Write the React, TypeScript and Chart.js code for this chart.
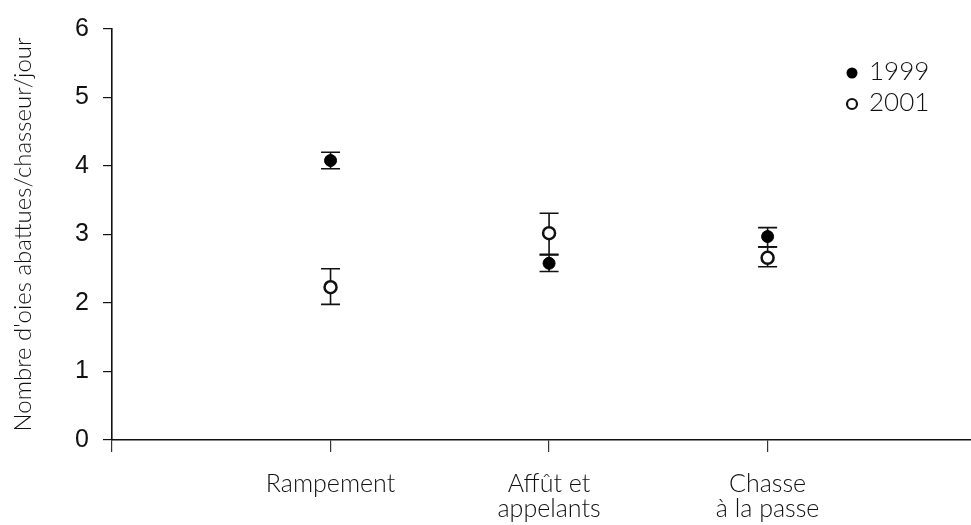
import React, { useEffect, useRef } from "react";
import { Chart, registerables } from "chart.js";

Chart.register(...registerables);

const categories: (string | string[])[] = ["", "Rampement", ["Affût et", "appelants"], ["Chasse", "à la passe"]];
const yTicks = [0, 1, 2, 3, 4, 5, 6];
const seriesNames = ["1999", "2001"];
const v1999 = [4.08, 2.58, 2.97];
const lo1999 = [3.96, 2.46, 2.82];
const hi1999 = [4.2, 2.7, 3.1];
const v2001 = [2.23, 3.02, 2.66];
const lo2001 = [1.98, 2.71, 2.53];
const hi2001 = [2.5, 3.31, 2.82];
const yTitle = "Nombre d'oies abattues/chasseur/jour";

const FONT = "Lato, 'Open Sans', sans-serif";
const WEIGHT = "300";

const errorBarPlugin = {
  id: "errorBars",
  beforeDatasetsDraw(chart: any) {
    const { ctx, scales } = chart;
    const x = scales.x;
    const y = scales.y;
    const sets = [
      { lo: lo1999, hi: hi1999 },
      { lo: lo2001, hi: hi2001 },
    ];
    ctx.save();
    ctx.strokeStyle = "#111";
    ctx.lineWidth = 1.6;
    sets.forEach((s) => {
      s.lo.forEach((lo, i) => {
        const px = x.getPixelForValue(i + 1);
        const pLo = y.getPixelForValue(lo);
        const pHi = y.getPixelForValue(s.hi[i]);
        ctx.beginPath();
        ctx.moveTo(px, pLo);
        ctx.lineTo(px, pHi);
        ctx.moveTo(px - 9.5, pLo);
        ctx.lineTo(px + 9.5, pLo);
        ctx.moveTo(px - 9.5, pHi);
        ctx.lineTo(px + 9.5, pHi);
        ctx.stroke();
      });
    });
    ctx.restore();
  },
};

const legendPlugin = {
  id: "customLegend",
  afterDraw(chart: any) {
    const { ctx } = chart;
    ctx.save();
    ctx.font = `${WEIGHT} 26px ${FONT}`;
    ctx.textBaseline = "middle";
    ctx.textAlign = "left";
    ctx.beginPath();
    ctx.arc(852, 73, 5.5, 0, Math.PI * 2);
    ctx.fillStyle = "#000";
    ctx.fill();
    ctx.fillStyle = "#111";
    ctx.fillText(seriesNames[0], 869, 72);
    ctx.beginPath();
    ctx.arc(852, 104, 5, 0, Math.PI * 2);
    ctx.lineWidth = 2.2;
    ctx.strokeStyle = "#111";
    ctx.stroke();
    ctx.fillText(seriesNames[1], 869, 103);
    ctx.restore();
  },
};

export default function App() {
  const ref = useRef<HTMLCanvasElement>(null);
  useEffect(() => {
    if (!ref.current) return;
    const chart = new Chart(ref.current, {
      type: "scatter",
      data: {
        datasets: [
          {
            label: seriesNames[0],
            data: v1999.map((v, i) => ({ x: i + 1, y: v })),
            pointRadius: 6,
            pointBackgroundColor: "#000",
            pointBorderColor: "#000",
            pointBorderWidth: 1,
          },
          {
            label: seriesNames[1],
            data: v2001.map((v, i) => ({ x: i + 1, y: v })),
            pointRadius: 6,
            pointBackgroundColor: "#fff",
            pointBorderColor: "#111",
            pointBorderWidth: 2.5,
          },
        ],
      },
      options: {
        animation: false,
        responsive: false,
        maintainAspectRatio: false,
        layout: { padding: { top: 21, right: 0, left: 0, bottom: 0 } },
        plugins: { legend: { display: false }, tooltip: { enabled: false } },
        scales: {
          x: {
            type: "linear",
            min: 0,
            max: 3.933,
            afterBuildTicks: (axis: any) => {
              axis.ticks = [0, 1, 2, 3].map((v) => ({ value: v }));
            },
            afterFit: (axis: any) => {
              axis.height = 85;
              axis.paddingRight = 0;
              axis.paddingLeft = 0;
            },
            ticks: {
              autoSkip: false,
              maxRotation: 0,
              padding: 19,
              color: "#111",
              font: { family: FONT, size: 25, weight: WEIGHT as any, lineHeight: 25 / 25 },
              callback: (v: any) => categories[Math.round(Number(v))] ?? "",
            },
            grid: { drawOnChartArea: false, drawTicks: true, tickLength: 12, color: "#333", lineWidth: 1.2 },
            border: { display: true, color: "#111", width: 1.6 },
          },
          y: {
            min: 0,
            max: 6,
            afterBuildTicks: (axis: any) => {
              axis.ticks = yTicks.map((v) => ({ value: v }));
            },
            afterFit: (axis: any) => {
              axis.width = 112;
            },
            ticks: {
              padding: 14,
              color: "#111",
              font: { family: "'Liberation Sans', Arial, sans-serif", size: 25 },
            },
            grid: { drawOnChartArea: false, drawTicks: true, tickLength: 9, color: "#111", lineWidth: 1.2 },
            border: { display: true, color: "#111", width: 1.6 },
            title: {
              display: true,
              text: yTitle,
              color: "#111",
              font: { family: FONT, size: 24, weight: WEIGHT as any, lineHeight: 1.2 },
              padding: { top: 9, bottom: 0 },
            },
          },
        },
      },
      plugins: [errorBarPlugin, legendPlugin],
    });
    return () => chart.destroy();
  }, []);
  return (
    <div style={{ position: "fixed", left: 0, top: 0, width: 971, height: 525, background: "#fff", overflow: "hidden" }}>
      <canvas ref={ref} width={980} height={525} style={{ display: "block" }} />
    </div>
  );
}
